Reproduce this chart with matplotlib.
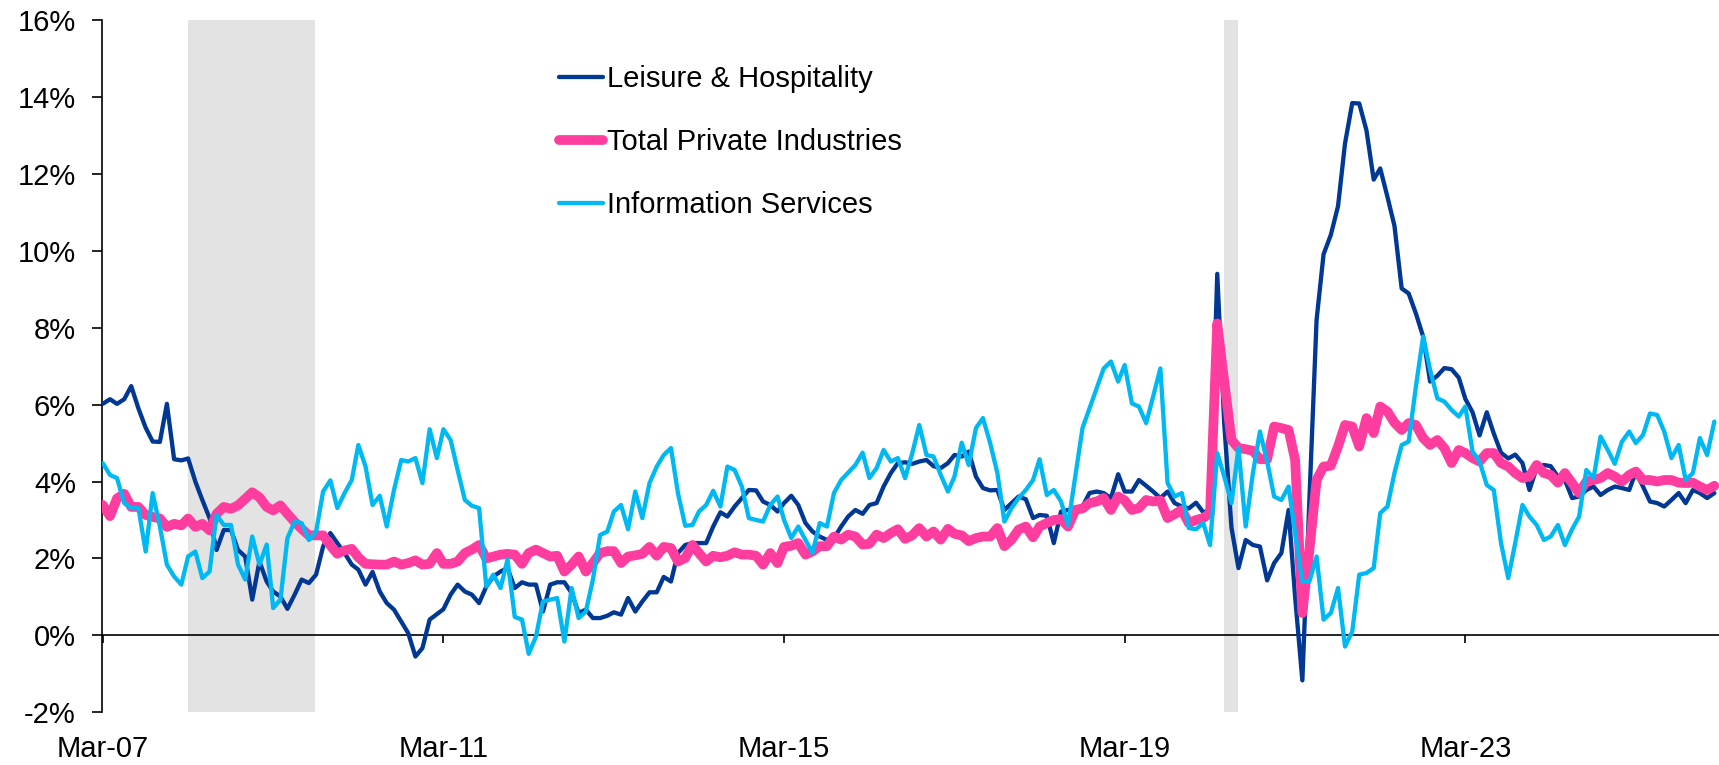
import numpy as np
import pandas as pd
import matplotlib
matplotlib.use("Agg")
import matplotlib.pyplot as plt
from matplotlib.ticker import FuncFormatter

plt.rcParams['font.family'] = ['Liberation Sans', 'DejaVu Sans']

# Year-over-year growth (%), monthly from Mar-2007
leisure = [
    6.02, 6.14, 6.02, 6.14, 6.48, 5.9, 5.4, 5.04, 5.03, 6.02,
    4.58, 4.55, 4.6, 4.0, 3.52, 3.05, 2.22, 2.74, 2.74, 2.22,
    2.05, 0.93, 1.92, 1.4, 1.14, 1.01, 0.69, 1.06, 1.45, 1.36,
    1.58, 2.31, 2.66, 2.4, 2.14, 1.84, 1.71, 1.32, 1.65, 1.14,
    0.84, 0.67, 0.36, 0.06, -0.55, -0.33, 0.41, 0.55, 0.68, 1.06,
    1.32, 1.14, 1.06, 0.84, 1.27, 1.53, 1.66, 1.75, 1.23, 1.38,
    1.32, 1.32, 0.62, 1.32, 1.38, 1.38, 1.1, 0.58, 0.67, 0.45,
    0.45, 0.51, 0.6, 0.54, 0.97, 0.62, 0.88, 1.12, 1.12, 1.52,
    1.4, 2.14, 2.35, 2.4, 2.4, 2.4, 2.83, 3.2, 3.09, 3.35,
    3.57, 3.78, 3.77, 3.48, 3.39, 3.22, 3.44, 3.63, 3.39, 2.92,
    2.7, 2.57, 2.48, 2.53, 2.83, 3.09, 3.26, 3.16, 3.39, 3.44,
    3.87, 4.22, 4.48, 4.5, 4.46, 4.52, 4.56, 4.4, 4.35, 4.48,
    4.69, 4.65, 4.78, 4.13, 3.83, 3.77, 3.78, 3.26, 3.44, 3.61,
    3.54, 3.05, 3.13, 3.11, 2.4, 3.22, 3.26, 3.3, 3.35, 3.7,
    3.74, 3.7, 3.57, 4.19, 3.74, 3.74, 4.04, 3.89, 3.74, 3.57,
    3.74, 3.44, 3.35, 3.3, 3.45, 3.2, 3.25, 9.4, 5.5, 2.8,
    1.75, 2.48, 2.35, 2.31, 1.43, 1.88, 2.14, 3.26, 1.0, -1.17,
    3.5, 8.2, 9.91, 10.41, 11.16, 12.79, 13.84, 13.83, 13.13, 11.85,
    12.14, 11.4, 10.65, 9.02, 8.89, 8.37, 7.77, 6.6, 6.75, 6.95,
    6.92, 6.7, 6.15, 5.8, 5.2, 5.8, 5.25, 4.75, 4.6, 4.7,
    4.48, 3.78, 4.35, 4.43, 4.4, 4.13, 4.04, 3.57, 3.61, 3.78,
    3.87, 3.65, 3.78, 3.87, 3.83, 3.78, 4.25, 3.87, 3.48, 3.44,
    3.35, 3.52, 3.7, 3.44, 3.78, 3.7, 3.57, 3.7,
]

total_private = [
    3.39, 3.1, 3.56, 3.68, 3.34, 3.34, 3.13, 3.08, 3.04, 2.82,
    2.9, 2.86, 3.04, 2.82, 2.9, 2.73, 3.16, 3.34, 3.29, 3.38,
    3.55, 3.72, 3.59, 3.34, 3.25, 3.38, 3.16, 2.95, 2.77, 2.6,
    2.6, 2.6, 2.34, 2.12, 2.21, 2.25, 2.03, 1.86, 1.85, 1.84,
    1.84, 1.92, 1.84, 1.88, 1.95, 1.84, 1.86, 2.14, 1.86, 1.86,
    1.92, 2.14, 2.23, 2.35, 2.0, 2.05, 2.1, 2.12, 2.1, 1.86,
    2.14, 2.23, 2.14, 2.05, 2.07, 1.66, 1.84, 2.05, 1.66, 1.88,
    2.14, 2.19, 2.19, 1.88, 2.05, 2.08, 2.12, 2.3, 2.07, 2.3,
    2.27, 1.92, 2.01, 2.35, 2.14, 1.92, 2.07, 2.03, 2.07, 2.16,
    2.1, 2.1, 2.07, 1.84, 2.14, 1.88, 2.3, 2.33, 2.4, 2.1,
    2.18, 2.32, 2.32, 2.57, 2.49, 2.62, 2.57, 2.36, 2.38, 2.62,
    2.53, 2.66, 2.76, 2.51, 2.6, 2.79, 2.57, 2.7, 2.49, 2.77,
    2.64, 2.6, 2.45, 2.53, 2.57, 2.57, 2.79, 2.32, 2.49, 2.75,
    2.83, 2.55, 2.83, 2.92, 3.0, 3.02, 2.83, 3.26, 3.3, 3.44,
    3.48, 3.57, 3.26, 3.61, 3.51, 3.26, 3.31, 3.52, 3.48, 3.51,
    3.05, 3.15, 3.26, 2.92, 3.0, 3.05, 3.18, 8.11, 6.6, 5.08,
    4.87, 4.84, 4.8, 4.58, 4.58, 5.43, 5.39, 5.34, 4.56, 0.58,
    2.2, 4.04, 4.39, 4.41, 4.91, 5.47, 5.43, 4.91, 5.65, 5.26,
    5.95, 5.82, 5.53, 5.34, 5.52, 5.47, 5.13, 4.95, 5.08, 4.87,
    4.48, 4.82, 4.74, 4.61, 4.52, 4.74, 4.74, 4.48, 4.39, 4.22,
    4.09, 4.13, 4.43, 4.22, 4.17, 3.97, 4.22, 3.96, 3.7, 4.0,
    4.04, 4.09, 4.22, 4.13, 4.0, 4.17, 4.26, 4.04, 4.04, 4.0,
    4.04, 4.04, 3.97, 3.96, 3.97, 3.87, 3.78, 3.89,
]

information = [
    4.48, 4.17, 4.09, 3.44, 3.31, 3.31, 2.18, 3.7, 2.83, 1.84,
    1.53, 1.32, 2.05, 2.18, 1.49, 1.66, 3.13, 2.87, 2.87, 1.84,
    1.45, 2.57, 1.84, 2.36, 0.71, 0.93, 2.53, 2.96, 2.92, 2.48,
    2.7, 3.74, 4.03, 3.31, 3.7, 4.04, 4.95, 4.39, 3.39, 3.63,
    2.83, 3.78, 4.56, 4.52, 4.61, 3.96, 5.36, 4.61, 5.36, 5.08,
    4.3, 3.52, 3.37, 3.31, 1.27, 1.58, 1.23, 1.97, 0.48, 0.41,
    -0.48, -0.03, 0.88, 0.93, 0.97, -0.16, 1.23, 0.45, 0.62, 1.45,
    2.61, 2.7, 3.22, 3.39, 2.76, 3.74, 3.05, 3.96, 4.39, 4.69,
    4.87, 3.7, 2.85, 2.87, 3.22, 3.39, 3.76, 3.35, 4.39, 4.3,
    3.87, 3.05, 3.0, 2.96, 3.39, 3.61, 3.0, 2.53, 2.83, 2.48,
    2.14, 2.92, 2.83, 3.7, 4.04, 4.23, 4.43, 4.75, 4.09, 4.35,
    4.82, 4.52, 4.61, 4.09, 4.74, 5.47, 4.69, 4.65, 4.17, 3.74,
    4.13, 5.01, 4.43, 5.39, 5.65, 5.0, 4.22, 2.96, 3.31, 3.57,
    3.78, 4.04, 4.58, 3.65, 3.78, 3.48, 2.87, 4.13, 5.39, 5.9,
    6.42, 6.94, 7.12, 6.6, 7.03, 6.03, 5.95, 5.52, 6.21, 6.94,
    3.96, 3.61, 3.7, 2.79, 2.76, 2.92, 2.35, 4.74, 4.13, 3.44,
    4.87, 2.83, 4.22, 5.3, 4.52, 3.61, 3.52, 3.87, 2.66, 1.4,
    1.4, 2.05, 0.41, 0.58, 1.23, -0.29, 0.1, 1.58, 1.62, 1.75,
    3.18, 3.35, 4.22, 4.95, 5.04, 6.47, 7.77, 6.9, 6.16, 6.08,
    5.86, 5.69, 5.95, 4.78, 4.52, 3.91, 3.78, 2.4, 1.49, 2.4,
    3.39, 3.09, 2.87, 2.48, 2.57, 2.87, 2.35, 2.76, 3.09, 4.3,
    4.09, 5.17, 4.82, 4.46, 5.04, 5.3, 5.0, 5.21, 5.77, 5.73,
    5.3, 4.61, 4.95, 4.04, 4.22, 5.13, 4.69, 5.56,
]

months = pd.date_range('2007-03-01', periods=len(leisure), freq='MS')

# shaded periods (as placed on the original chart)
shaded = [('2008-02-28', '2009-08-28'), ('2020-05-01', '2020-06-28')]

tick_dates = months[::48]
tick_labels = [d.strftime('%b-%y') for d in tick_dates]

fig = plt.figure(figsize=(17.19, 7.65), dpi=100)
ax = fig.add_axes([102.3 / 1719, 1 - 712.3 / 765, 1 - 102.3 / 1719, 692.3 / 765])

for start, end in shaded:
    ax.axvspan(pd.Timestamp(start), pd.Timestamp(end), color='#E3E3E3', lw=0, zorder=0)

ax.plot(months, leisure, color='#003893', lw=3.1, solid_joinstyle='round',
        solid_capstyle='round', label='Leisure & Hospitality', zorder=3)
ax.plot(months, total_private, color='#FF3D9E', lw=7.0, solid_joinstyle='round',
        solid_capstyle='round', label='Total Private Industries', zorder=4)
ax.plot(months, information, color='#00B9F2', lw=3.1, solid_joinstyle='round',
        solid_capstyle='round', label='Information Services', zorder=5)

ax.set_ylim(-2, 16)
ax.set_yticks(np.arange(-2, 17, 2))
ax.yaxis.set_major_formatter(FuncFormatter(lambda v, p: f'{v:.0f}%'))
ax.set_xlim(months[0] - pd.Timedelta(days=2), months[-1] + pd.Timedelta(days=20))
ax.set_xticks(tick_dates)
ax.set_xticklabels(tick_labels)

for side in ['top', 'right']:
    ax.spines[side].set_visible(False)
ax.spines['bottom'].set_position(('data', 0))
ax.spines['bottom'].set_linewidth(1.2)
ax.spines['left'].set_linewidth(1.2)
ax.spines['bottom'].set_zorder(2)

ax.tick_params(axis='y', direction='out', length=7, width=1.2, pad=12, labelsize=21)
ax.tick_params(axis='x', direction='out', length=6, width=1.2, pad=66, labelsize=21)

ax.legend(loc='upper left', bbox_to_anchor=(559 / 1719, 1 - 65 / 765),
          bbox_transform=fig.transFigure, frameon=False, fontsize=21,
          handlelength=1.5, handletextpad=0.15, labelspacing=1.2,
          borderpad=0, borderaxespad=0)

fig.savefig('out.png', dpi=100)
